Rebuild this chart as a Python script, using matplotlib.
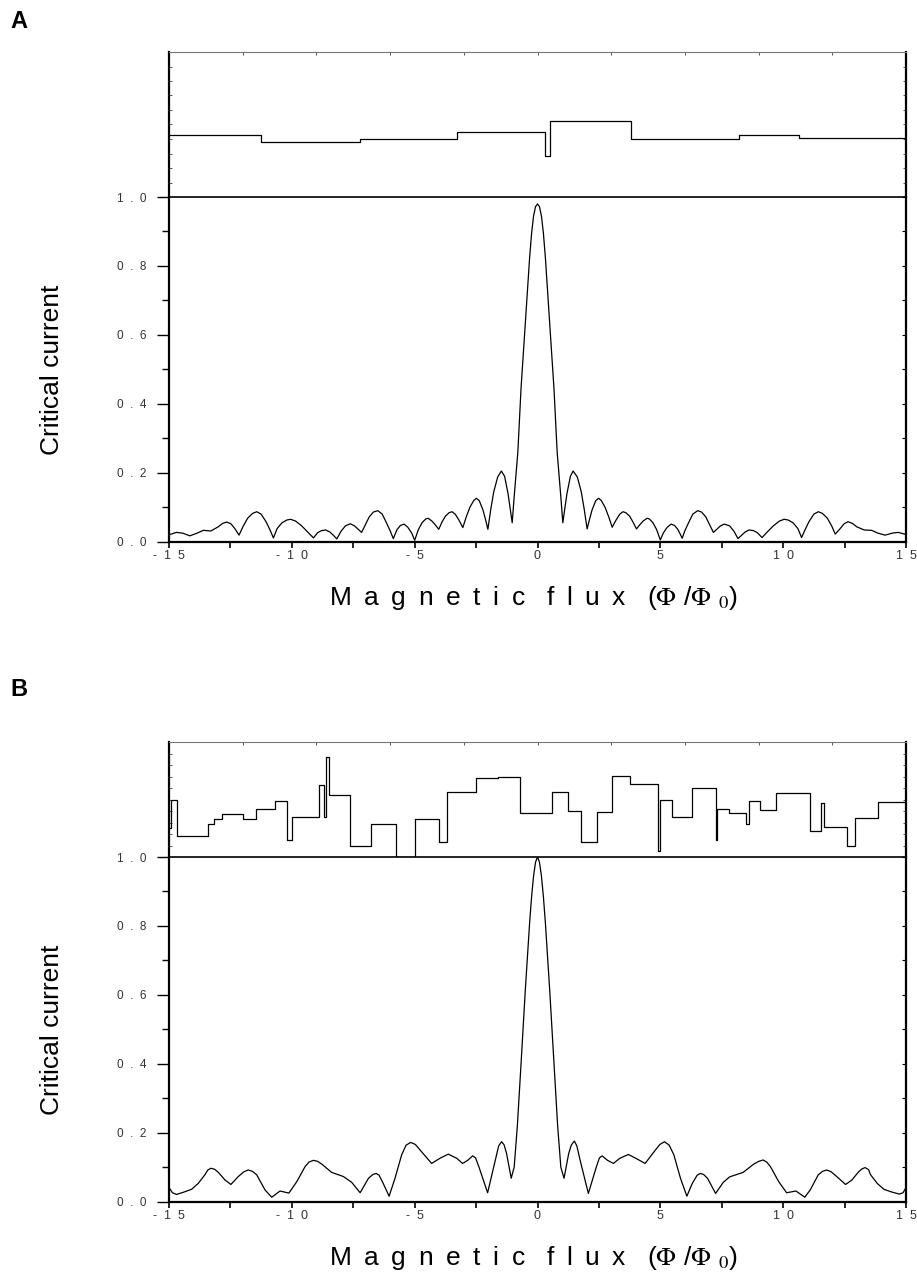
import numpy as np
import matplotlib
matplotlib.use("Agg")
import matplotlib.pyplot as plt
from matplotlib.ticker import FixedLocator, FixedFormatter, MultipleLocator, NullFormatter

plt.rcParams['font.family'] = ['Liberation Sans', 'DejaVu Sans']
plt.rcParams['mathtext.fontset'] = 'stix'

# ---------------- data ----------------
# Panel A: critical current vs magnetic flux
fluxA = [-15.0, -14.7, -14.45, -14.15, -13.85, -13.6, -13.3, -13.0, -12.82, -12.65, -12.48, -12.32,
         -12.15, -11.98, -11.8, -11.6, -11.43, -11.25, -11.05, -10.9, -10.75, -10.6, -10.4, -10.2,
         -10.05, -9.85, -9.6, -9.35, -9.12, -8.95, -8.8, -8.62, -8.45, -8.3, -8.17, -8.0, -7.82,
         -7.62, -7.45, -7.3, -7.16, -7.0, -6.85, -6.68, -6.5, -6.32, -6.15, -6.0, -5.87, -5.72,
         -5.58, -5.43, -5.28, -5.12, -5.0, -4.85, -4.7, -4.55, -4.45, -4.3, -4.15, -4.02, -3.88,
         -3.75, -3.6, -3.48, -3.35, -3.2, -3.04, -2.9, -2.75, -2.6, -2.49, -2.37, -2.22, -2.1,
         -2.02, -1.9, -1.78, -1.62, -1.47, -1.34, -1.2, -1.1, -1.03, -0.95, -0.8, -0.67, -0.5,
         -0.32, -0.24, -0.16, -0.08, 0.0,
         0.08, 0.16, 0.24, 0.32, 0.5, 0.67, 0.8, 0.95, 1.03, 1.1, 1.2, 1.34, 1.45, 1.62, 1.78, 1.9,
         2.02, 2.1, 2.22, 2.37, 2.49, 2.6, 2.75, 2.9, 3.04, 3.2, 3.35, 3.48, 3.6, 3.75, 3.88, 4.03,
         4.15, 4.3, 4.46, 4.55, 4.7, 4.85, 5.0, 5.12, 5.28, 5.44, 5.58, 5.72, 5.89, 6.0, 6.15,
         6.32, 6.52, 6.68, 6.85, 7.0, 7.16, 7.3, 7.45, 7.6, 7.82, 8.0, 8.16, 8.3, 8.45, 8.61,
         8.8, 8.95, 9.14, 9.35, 9.6, 9.85, 10.04, 10.2, 10.4, 10.6, 10.75, 10.9, 11.05, 11.25,
         11.43, 11.6, 11.8, 11.98, 12.12, 12.32, 12.48, 12.64, 12.82, 13.0, 13.3, 13.6, 13.85,
         14.15, 14.45, 14.68, 15.0]
currentA = [0.020, 0.027, 0.025, 0.017, 0.025, 0.033, 0.031, 0.043, 0.053, 0.057, 0.052, 0.038,
            0.019, 0.045, 0.068, 0.082, 0.087, 0.080, 0.058, 0.036, 0.011, 0.038, 0.055, 0.063,
            0.065, 0.060, 0.046, 0.028, 0.011, 0.026, 0.032, 0.034, 0.028, 0.018, 0.008, 0.030, 0.046,
            0.052, 0.046, 0.036, 0.027, 0.050, 0.072, 0.086, 0.090, 0.080, 0.055, 0.032, 0.009, 0.035,
            0.047, 0.051, 0.042, 0.025, 0.004, 0.035, 0.055, 0.066, 0.068, 0.060, 0.048, 0.036, 0.058,
            0.074, 0.084, 0.087, 0.080, 0.063, 0.041, 0.072, 0.100, 0.119, 0.126, 0.119, 0.092, 0.060,
            0.036, 0.095, 0.145, 0.188, 0.205, 0.190, 0.140, 0.090, 0.055, 0.130, 0.260, 0.445, 0.630,
            0.825, 0.895, 0.945, 0.972, 0.980,
            0.972, 0.945, 0.895, 0.825, 0.630, 0.445, 0.260, 0.130, 0.055, 0.090, 0.140, 0.190, 0.205,
            0.188, 0.145, 0.095, 0.037, 0.060, 0.092, 0.119, 0.126, 0.119, 0.100, 0.072, 0.042, 0.063,
            0.080, 0.087, 0.084, 0.074, 0.058, 0.037, 0.048, 0.060, 0.068, 0.066, 0.055, 0.035, 0.005,
            0.025, 0.042, 0.051, 0.047, 0.035, 0.010, 0.032, 0.055, 0.080, 0.090, 0.086, 0.072, 0.050,
            0.027, 0.036, 0.046, 0.051, 0.046, 0.030, 0.009, 0.018, 0.028, 0.034, 0.032, 0.026, 0.012,
            0.028, 0.046, 0.060, 0.065, 0.063, 0.055, 0.038, 0.012, 0.036, 0.058, 0.080, 0.087, 0.082,
            0.068, 0.045, 0.022, 0.038, 0.052, 0.058, 0.053, 0.043, 0.034, 0.033, 0.025, 0.019, 0.025,
            0.027, 0.021]

# Panel A: upper step trace
stepA_x = [-15.0, -11.25, -7.23, -3.29, 0.32, 0.51, 3.80, 8.20, 10.66]
stepA_y = [0.430, 0.377, 0.402, 0.446, 0.285, 0.522, 0.402, 0.430, 0.409]

# Panel B: critical current vs magnetic flux
fluxB = [-15.0, -14.86, -14.69, -14.35, -14.08, -13.81, -13.53, -13.42, -13.29, -13.14, -12.99,
         -12.72, -12.48, -12.18, -11.95, -11.77, -11.6, -11.43, -11.09, -10.82, -10.48, -10.12,
         -9.8, -9.46, -9.3, -9.12, -8.95, -8.78, -8.38, -7.9, -7.56, -7.22, -6.88, -6.7, -6.57,
         -6.45, -6.28, -6.04, -5.8, -5.53, -5.35, -5.16, -4.97, -4.78, -4.31, -3.97, -3.63, -3.29,
         -3.05, -2.84, -2.64, -2.52, -2.39, -2.03, -1.73, -1.58, -1.46, -1.36, -1.26, -1.07, -0.95,
         -0.82, -0.67, -0.5, -0.32, -0.24, -0.16, -0.08, 0.0,
         0.08, 0.16, 0.24, 0.32, 0.5, 0.67, 0.82, 0.95, 1.08, 1.27, 1.38, 1.5, 1.6, 1.75, 2.07,
         2.4, 2.52, 2.63, 2.85, 3.09, 3.35, 3.7, 4.0, 4.38, 4.8, 4.98, 5.17, 5.36, 5.55, 5.82,
         6.08, 6.3, 6.5, 6.63, 6.76, 6.92, 7.25, 7.56, 7.82, 8.37, 8.8, 9.0, 9.18, 9.33, 9.48,
         9.82, 10.14, 10.52, 10.88, 11.1, 11.43, 11.6, 11.77, 11.95, 12.18, 12.54, 12.8, 13.05,
         13.18, 13.33, 13.48, 13.55, 13.83, 14.1, 14.38, 14.73, 14.88, 15.0]
currentB = [0.041, 0.026, 0.021, 0.029, 0.036, 0.053, 0.079, 0.092, 0.097, 0.094, 0.085,
            0.063, 0.050, 0.073, 0.087, 0.092, 0.088, 0.078, 0.034, 0.013, 0.031, 0.025,
            0.058, 0.102, 0.115, 0.120, 0.117, 0.109, 0.085, 0.073, 0.056, 0.026, 0.068, 0.079, 0.082,
            0.077, 0.053, 0.016, 0.068, 0.136, 0.164, 0.172, 0.166, 0.150, 0.111, 0.126, 0.138, 0.126,
            0.111, 0.120, 0.133, 0.127, 0.102, 0.026, 0.116, 0.162, 0.174, 0.165, 0.140, 0.068, 0.100,
            0.220, 0.400, 0.610, 0.810, 0.885, 0.945, 0.985, 1.000,
            0.985, 0.945, 0.885, 0.810, 0.610, 0.400, 0.220, 0.100, 0.068, 0.140, 0.165, 0.176,
            0.162, 0.116, 0.024, 0.102, 0.127, 0.133, 0.120, 0.111, 0.126, 0.137, 0.126, 0.111,
            0.150, 0.166, 0.174, 0.164, 0.136, 0.068, 0.016, 0.053, 0.077, 0.082, 0.079, 0.068,
            0.024, 0.056, 0.072, 0.085, 0.109, 0.117, 0.121, 0.115, 0.102, 0.058, 0.026, 0.031,
            0.013, 0.034, 0.078, 0.088, 0.092, 0.087, 0.073, 0.050, 0.063, 0.085, 0.094, 0.099,
            0.093, 0.079, 0.053, 0.036, 0.029, 0.022, 0.026, 0.041]

# Panel B: upper step trace
stepB_x = [-15.0, -14.9, -14.67, -13.41, -13.17, -12.86, -11.99, -11.47, -10.70, -10.19, -9.99,
           -8.89, -8.70, -8.59, -8.48, -7.64, -6.79, -5.77, -5.0, -4.0, -3.67, -2.51, -1.6, -0.72,
           0.585, 1.25, 1.77, 2.42, 3.03, 3.77, 4.90, 4.99, 5.48, 6.30, 7.25, 7.32, 7.78, 8.48,
           8.60, 9.05, 9.69, 11.09, 11.54, 11.66, 12.59, 12.93, 13.85]
stepB_y = [0.25, 0.50, 0.18, 0.283, 0.327, 0.37, 0.327, 0.414, 0.487, 0.152, 0.35,
           0.627, 0.35, 0.869, 0.539, 0.096, 0.289, 0.0, 0.327, 0.131, 0.563, 0.685, 0.70, 0.385,
           0.566, 0.40, 0.131, 0.388, 0.703, 0.633, 0.052, 0.496, 0.35, 0.60, 0.146, 0.417, 0.379,
           0.286, 0.487, 0.408, 0.554, 0.222, 0.466, 0.259, 0.096, 0.335, 0.475]

xtick_vals = [-15, -10, -5, 0, 5, 10, 15]
xtick_labels = ["-  1  5", "-  1  0", "-  5", "0", "5", "1  0", "1  5"]
ytick_vals = [0.0, 0.2, 0.4, 0.6, 0.8, 1.0]
ytick_labels = ["0  .  0", "0  .  2", "0  .  4", "0  .  6", "0  .  8", "1  .  0"]
panel_letters = ["A", "B"]
ylabel_text = "Critical current"
_g = " \u2009"
xlabel_text = (_g.join("Magnetic") + "   " + _g.join("flux") + "   "
               + r"($\Phi$ /$\Phi$ $_{0}$)")

# ---------------- figure ----------------
W, H = 917, 1273
fig = plt.figure(figsize=(W / 100, H / 100), dpi=100)

def fx(px):
    return px / W

def fy(py):
    return 1 - py / H

left_px, right_px = 169, 906
panels = [
    dict(strip=(52, 197), main=(197, 541.7), flux=fluxA, cur=currentA, sx=stepA_x, sy=stepA_y,
         letter_y=22, ylab_y=370, xlab_y=598),
    dict(strip=(742, 857), main=(857, 1201.7), flux=fluxB, cur=currentB, sx=stepB_x, sy=stepB_y,
         letter_y=690, ylab_y=1030, xlab_y=1258),
]

tick_color = "#333333"

for letter, p in zip(panel_letters, panels):
    st, sb = p["strip"]
    mt, mb = p["main"]
    ax_s = fig.add_axes([fx(left_px), fy(sb), fx(right_px - left_px), (sb - st) / H])
    ax_m = fig.add_axes([fx(left_px), fy(mb), fx(right_px - left_px), (mb - mt) / H])

    # ---- main axes ----
    ax_m.plot(p["flux"], p["cur"], color="black", lw=0.9)
    ax_m.set_xlim(-15, 15)
    ax_m.set_ylim(0, 1.0)
    ax_m.xaxis.set_major_locator(FixedLocator(xtick_vals))
    ax_m.xaxis.set_major_formatter(FixedFormatter(xtick_labels))
    ax_m.xaxis.set_minor_locator(MultipleLocator(2.5))
    ax_m.yaxis.set_major_locator(FixedLocator(ytick_vals))
    ax_m.yaxis.set_major_formatter(FixedFormatter(ytick_labels))
    ax_m.yaxis.set_minor_locator(MultipleLocator(0.1))
    ax_m.tick_params(axis='x', which='both', direction='out', length=4, width=1.2,
                     labelsize=9, labelcolor=tick_color, pad=2)
    ax_m.tick_params(axis='y', which='major', direction='out', length=9, width=1.0,
                     labelsize=8.5, labelcolor=tick_color, pad=7)
    ax_m.tick_params(axis='y', which='minor', direction='out', length=5, width=1.0)
    # right side inward ticks
    ax_r = ax_m.twinx()
    ax_r.set_ylim(0, 1.0)
    ax_r.yaxis.set_major_locator(MultipleLocator(0.1))
    ax_r.yaxis.set_major_formatter(NullFormatter())
    ax_r.tick_params(axis='y', direction='in', length=3, width=0.8)
    for sp in ax_r.spines.values():
        sp.set_visible(False)
    for side in ['left', 'bottom', 'right']:
        ax_m.spines[side].set_linewidth(1.6)
    ax_m.spines['top'].set_linewidth(1.2)

    # ---- strip axes ----
    sx = list(p["sx"]) + [15.0]
    sy = list(p["sy"]) + [p["sy"][-1]]
    ax_s.step(sx, sy, where='post', color='black', lw=0.9)
    ax_s.set_xlim(-15, 15)
    ax_s.set_ylim(0, 1.0)
    ax_s.xaxis.set_major_locator(MultipleLocator(3))
    ax_s.yaxis.set_major_locator(MultipleLocator(0.1))
    ax_s.xaxis.set_major_formatter(NullFormatter())
    ax_s.yaxis.set_major_formatter(NullFormatter())
    ax_s.tick_params(axis='both', which='both', direction='in', length=2.5, width=0.7,
                     top=True, bottom=False, left=True, right=True, colors='#555555')
    ax_s.spines['bottom'].set_visible(False)
    ax_s.spines['top'].set_linewidth(0.8)
    ax_s.spines['top'].set_color('#777777')
    ax_s.spines['left'].set_linewidth(1.6)
    ax_s.spines['right'].set_linewidth(1.6)

    # ---- labels ----
    fig.text(fx(10), fy(p["letter_y"]), letter, fontsize=17, fontweight='bold',
             ha='left', va='center')
    fig.text(fx(52), fy(p["ylab_y"]), ylabel_text, fontsize=19, rotation=90,
             ha='center', va='center')
    fig.text(fx(534), fy(p["xlab_y"]), xlabel_text, fontsize=19,
             ha='center', va='center')

fig.savefig("out.png", dpi=100)
